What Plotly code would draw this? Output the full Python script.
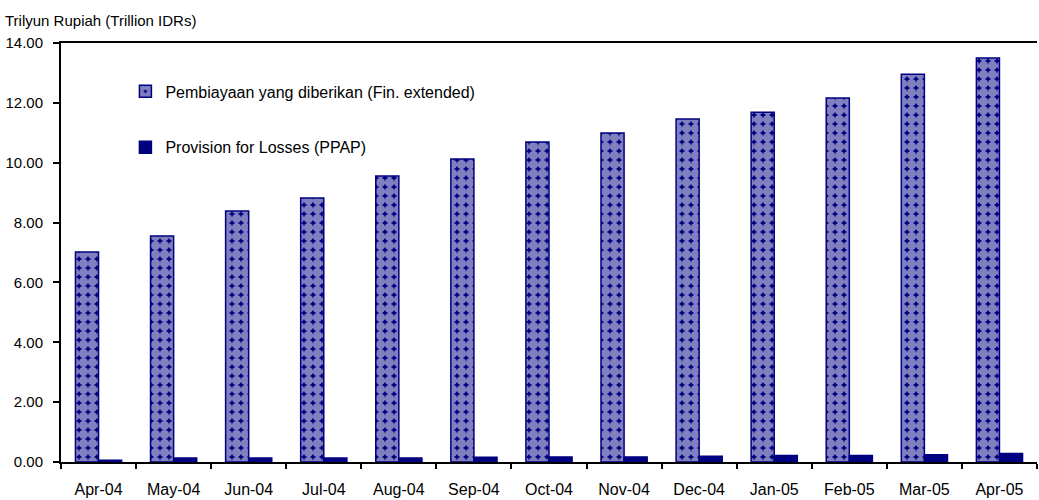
import plotly.graph_objects as go

months = ["Apr-04", "May-04", "Jun-04", "Jul-04", "Aug-04", "Sep-04", "Oct-04",
          "Nov-04", "Dec-04", "Jan-05", "Feb-05", "Mar-05", "Apr-05"]
financing = [7.02, 7.55, 8.39, 8.82, 9.56, 10.12, 10.69, 10.99, 11.46, 11.69, 12.16, 12.96, 13.50]
provision = [0.06, 0.13, 0.13, 0.13, 0.13, 0.16, 0.17, 0.17, 0.19, 0.22, 0.22, 0.24, 0.28]
y_ticks = [0, 2, 4, 6, 8, 10, 12, 14]
y_tick_labels = ["0.00", "2.00", "4.00", "6.00", "8.00", "10.00", "12.00", "14.00"]

NAVY = "#000080"

fig = go.Figure()
fig.add_trace(go.Bar(
    x=months, y=financing, name="Pembiayaan yang diberikan (Fin. extended)",
    legendgroup="a",
    marker=dict(color=NAVY, line=dict(color=NAVY, width=1.5),
                pattern=dict(shape=".", fgcolor="white", bgcolor=NAVY, size=9, solidity=0.8)),
))
fig.add_trace(go.Bar(
    x=months, y=provision, name="Provision for Losses (PPAP)",
    legendgroup="b",
    marker=dict(color=NAVY, line=dict(color=NAVY, width=1.5)),
))

fig.update_layout(
    width=1039, height=500,
    margin=dict(l=61, r=2, t=43, b=38),
    paper_bgcolor="white", plot_bgcolor="white",
    font=dict(family="Arial, Liberation Sans, sans-serif", color="black", size=15),
    barmode="group", bargap=0.385, bargroupgap=0,
    legend=dict(x=0.066, y=0.925, xanchor="left", yanchor="top",
                font=dict(size=16), tracegroupgap=32, bgcolor="rgba(0,0,0,0)",
                itemwidth=30),
    annotations=[dict(text="Trilyun Rupiah (Trillion IDRs)", xref="paper", yref="paper",
                      x=-0.059, y=1.0, yshift=12, xanchor="left", yanchor="bottom",
                      showarrow=False, font=dict(size=15))],
)
fig.update_xaxes(showline=True, linecolor="black", linewidth=2, mirror=True,
                 ticks="outside", tickson="boundaries", ticklen=5, tickcolor="black",
                 tickwidth=2, showgrid=False, tickfont=dict(size=16),
                 ticklabelstandoff=12)
fig.update_yaxes(range=[0, 14], tickvals=y_ticks, ticktext=y_tick_labels,
                 showline=True, linecolor="black", linewidth=2, ticks="outside",
                 ticklen=6, tickwidth=2, tickcolor="black", showgrid=False,
                 zeroline=False, tickfont=dict(size=15), ticklabelstandoff=7)

fig.write_html("out.html")
